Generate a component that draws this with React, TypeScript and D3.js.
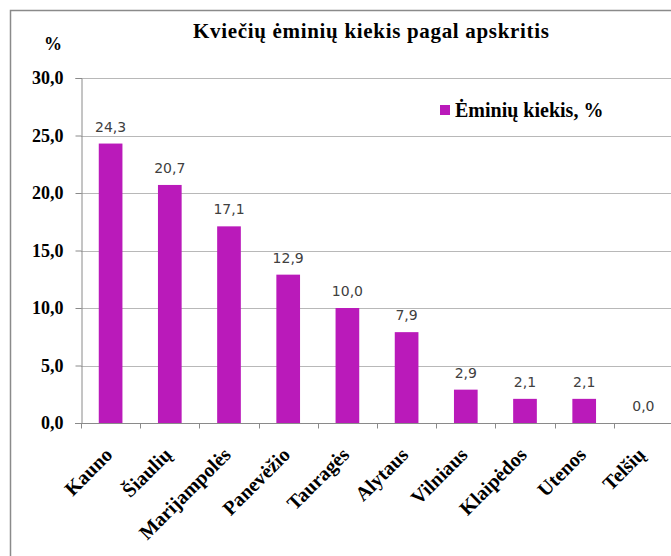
import React, { useRef, useEffect } from "react";
import { select, scaleBand, scaleLinear, axisLeft, range } from "d3";

const regions = ["Kauno", "Šiaulių", "Marijampolės", "Panevėžio", "Tauragės", "Alytaus", "Vilniaus", "Klaipėdos", "Utenos", "Telšių"];
const shares = [24.3, 20.7, 17.1, 12.9, 10.0, 7.9, 2.9, 2.1, 2.1, 0.0];
const yTicks = [0, 5, 10, 15, 20, 25, 30];

const title = "Kviečių ėminių kiekis pagal apskritis";
const seriesName = "Ėminių kiekis, %";

const serif = "'Liberation Serif', Tinos, 'Times New Roman', Times, 'Noto Serif', 'DejaVu Serif', FreeSerif, serif";
const barColor = "#BA1ABA";

const App = () => {
  const svgRef = useRef(null);

  useEffect(() => {
    const svg = select(svgRef.current);
    svg.selectAll("*").remove();

    const x = scaleBand().domain(regions).range([81, 673]).paddingInner(0.6).paddingOuter(0.3);
    const y = scaleLinear().domain([0, 30]).range([423, 78]);

    // outer chart frame (runs off the right/bottom of the picture)
    svg.append("rect")
      .attr("x", 10.5).attr("y", 10.5)
      .attr("width", 720).attr("height", 620)
      .attr("fill", "white")
      .attr("stroke", "#8a8a8a")
      .attr("stroke-width", 1.5);

    // gridlines
    svg.append("g")
      .selectAll("line")
      .data(yTicks)
      .join("line")
      .attr("x1", 81).attr("x2", 680)
      .attr("y1", d => Math.round(y(d)) + 0.5)
      .attr("y2", d => Math.round(y(d)) + 0.5)
      .attr("stroke", "#b8b8b8");

    // y axis
    const yAxis = svg.append("g")
      .attr("transform", "translate(81.5,0)")
      .call(axisLeft(y).tickValues(yTicks).tickSize(6).tickPadding(12)
        .tickFormat(d => Number(d).toFixed(1).replace(".", ",")));
    yAxis.attr("font-family", null).attr("font-size", null);
    yAxis.selectAll("path, line").attr("stroke", "#8a8a8a");
    yAxis.selectAll("text")
      .style("font-family", serif).style("font-size", "18px").style("font-weight", "bold")
      .attr("fill", "black");

    // x axis: ticks sit on category boundaries
    const step = x.step();
    const boundaries = range(regions.length).map(i => 81 + i * step);
    const xAxisG = svg.append("g").attr("transform", "translate(0,423.5)");
    xAxisG.append("line").attr("x1", 75).attr("x2", 680).attr("stroke", "#8a8a8a");
    xAxisG.selectAll("line.tick")
      .data(boundaries)
      .join("line")
      .attr("class", "tick")
      .attr("x1", d => Math.round(d) + 0.5).attr("x2", d => Math.round(d) + 0.5)
      .attr("y1", 0).attr("y2", 5)
      .attr("stroke", "#8a8a8a");

    // category labels, rotated
    svg.append("g")
      .selectAll("text")
      .data(regions)
      .join("text")
      .attr("transform", d => `translate(${x(d) + x.bandwidth() / 2 + 3},456) rotate(-45)`)
      .attr("text-anchor", "end")
      .style("font-family", serif).style("font-size", "20px").style("font-weight", "bold")
      .text(d => d);

    // bars
    svg.append("g")
      .selectAll("rect")
      .data(shares)
      .join("rect")
      .attr("x", (d, i) => x(regions[i]))
      .attr("y", d => y(d))
      .attr("width", x.bandwidth())
      .attr("height", d => y(0) - y(d))
      .attr("fill", barColor);

    // value labels
    svg.append("g")
      .selectAll("text")
      .data(shares)
      .join("text")
      .attr("x", (d, i) => x(regions[i]) + x.bandwidth() / 2)
      .attr("y", d => y(d) - 12)
      .attr("text-anchor", "middle")
      .style("font-family", "'DejaVu Sans', sans-serif").style("font-size", "14px")
      .attr("fill", "#404040")
      .text(d => d.toFixed(1).replace(".", ","));

    // title and unit
    svg.append("text")
      .attr("x", 371).attr("y", 38)
      .attr("text-anchor", "middle")
      .attr("textLength", 356).attr("lengthAdjust", "spacing")
      .style("font-family", serif).style("font-size", "21px").style("font-weight", "bold")
      .text(title);
    svg.append("text")
      .attr("x", 53).attr("y", 50)
      .attr("text-anchor", "middle")
      .style("font-family", serif).style("font-size", "18px").style("font-weight", "bold")
      .text("%");

    // legend
    svg.append("rect")
      .attr("x", 440).attr("y", 105).attr("width", 10).attr("height", 10)
      .attr("fill", barColor);
    svg.append("text")
      .attr("x", 455).attr("y", 117)
      .style("font-family", serif).style("font-size", "20px").style("font-weight", "bold")
      .text(seriesName);
  }, []);

  return (
    <svg ref={svgRef} width={671} height={556}
      style={{ position: "absolute", left: 0, top: 0, display: "block" }} />
  );
};

export default App;
